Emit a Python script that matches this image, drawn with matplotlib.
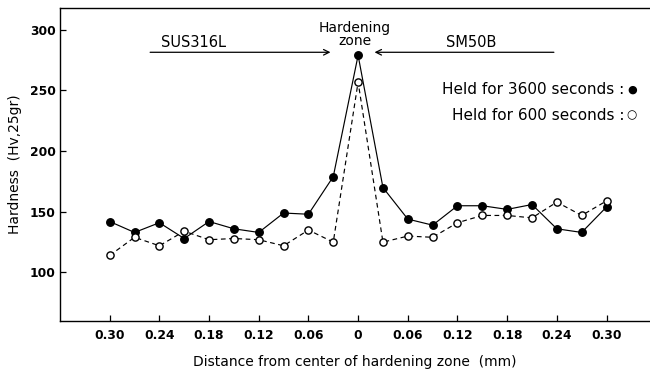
import numpy as np
import matplotlib.pyplot as plt

# distance from the centre of the hardening zone (mm), SUS316L side negative
distance = [-0.30, -0.27, -0.24, -0.21, -0.18, -0.15, -0.12, -0.09, -0.06, -0.03, 0.0,
            0.03, 0.06, 0.09, 0.12, 0.15, 0.18, 0.21, 0.24, 0.27, 0.30]
held_3600 = [142, 133, 141, 128, 142, 136, 133, 149, 148, 179, 279,
             170, 144, 139, 155, 155, 152, 156, 136, 133, 154]
held_600 = [114, 129, 122, 134, 127, 128, 127, 122, 135, 125, 257,
            125, 130, 129, 141, 147, 147, 145, 158, 147, 159]

xtick_pos = [-0.30, -0.24, -0.18, -0.12, -0.06, 0.0, 0.06, 0.12, 0.18, 0.24, 0.30]
xtick_labels = ['0.30', '0.24', '0.18', '0.12', '0.06', '0', '0.06', '0.12', '0.18', '0.24', '0.30']
ytick_pos = [100, 150, 200, 250, 300]

plt.rcParams['font.family'] = ['DejaVu Sans']

fig = plt.figure(figsize=(6.5, 3.73), dpi=100)
ax = fig.add_axes([60 / 650, 1 - 321 / 373, 1 - 60 / 650, (321 - 8) / 373])

ax.plot(distance, held_3600, color='black', lw=0.85, ls='-',
        marker='o', ms=5.4, mfc='black', mec='black')
ax.plot(distance, held_600, color='black', lw=0.85, ls=(0, (4, 3)),
        marker='o', ms=5.2, mfc='white', mec='black', mew=1.0)

ax.set_xlim(-0.36, 0.3525)
ax.set_ylim(60, 318)

ax.set_xticks(xtick_pos)
ax.set_xticklabels(xtick_labels, fontsize=8.8, fontweight='bold')
ax.set_yticks(ytick_pos)
ax.set_yticklabels([str(v) for v in ytick_pos], fontsize=8.8, fontweight='bold')
ax.tick_params(axis='both', direction='in', length=4.5, width=0.9, color='black')
ax.tick_params(axis='x', pad=6)
ax.tick_params(axis='y', pad=3)

ax.spines['right'].set_visible(False)
for side in ['left', 'top', 'bottom']:
    ax.spines[side].set_linewidth(1.0)

ax.set_xlabel('Distance from center of hardening zone  (mm)', fontsize=10, labelpad=9)
ax.set_ylabel('Hardness  (Hv,25gr)', fontsize=10, labelpad=6)

# region arrows at the top
arrow_y = 281.5
ax.annotate('', xy=(-0.030, arrow_y), xytext=(-0.2545, arrow_y),
            arrowprops=dict(arrowstyle='->', color='black', lw=0.9))
ax.annotate('', xy=(0.0165, arrow_y), xytext=(0.2398, arrow_y),
            arrowprops=dict(arrowstyle='->', color='black', lw=0.9))
ax.text(-0.199, 289.5, 'SUS316L', fontsize=10.5, ha='center', va='center')
ax.text(0.136, 289.5, 'SM50B', fontsize=10.5, ha='center', va='center')
ax.text(-0.004, 296, 'Hardening\nzone', fontsize=10, ha='center', va='center',
        linespacing=0.95)

# legend written as text
ax.text(0.3215, 250.5, 'Held for 3600 seconds :', fontsize=11, ha='right', va='center')
ax.text(0.3215, 229.8, 'Held for 600 seconds :', fontsize=11, ha='right', va='center')
ax.text(0.3305, 250.8, '\u25cf', fontsize=8, ha='center', va='center')
ax.text(0.3305, 229.8, '\u25cb', fontsize=8.5, ha='center', va='center')

fig.savefig('out.png', dpi=100)
